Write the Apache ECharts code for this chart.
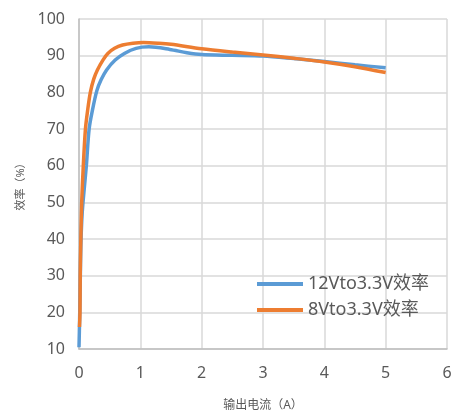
<!DOCTYPE html>
<html><head><meta charset="utf-8">
<script src="https://cdn.jsdelivr.net/npm/echarts@6/dist/echarts.min.js"></script>
<style>html,body{margin:0;padding:0;background:#fff}#c{width:452px;height:410px}</style>
</head><body><div id="c"></div>
<script>
const seriesNames = ['12Vto3.3V效率', '8Vto3.3V效率'];
const xTicks = [0, 1, 2, 3, 4, 5, 6];
const yTicks = [10, 20, 30, 40, 50, 60, 70, 80, 90, 100];
const current12V = [0, 0.01, 0.02, 0.03, 0.045, 0.065, 0.12, 0.165, 0.22, 0.29, 0.36, 0.45, 0.59, 0.74, 0.93, 1.14, 1.48, 1.76, 2, 2.5, 3, 3.5, 4, 4.5, 5];
const eff12V =     [10.5, 18, 28, 38, 45, 50, 60, 70, 75.2, 80.4, 83.4, 86.1, 88.8, 90.6, 92.0, 92.4, 91.7, 90.8, 90.3, 90.1, 89.9, 89.2, 88.4, 87.5, 86.7];
const current8V = [0.008, 0.016, 0.02, 0.03, 0.044, 0.07, 0.105, 0.14, 0.185, 0.24, 0.30, 0.39, 0.47, 0.58, 0.71, 0.88, 1.05, 1.3, 1.5, 2, 2.5, 3, 3.5, 4, 4.5, 5];
const eff8V =     [16, 20, 30, 40, 50, 60, 70, 75, 80, 83.6, 86.1, 88.8, 90.6, 92.0, 92.9, 93.4, 93.6, 93.4, 93.1, 91.9, 91.0, 90.2, 89.3, 88.3, 87.0, 85.4];

const font = '"Noto Sans", "Noto Sans CJK SC", sans-serif';
const chart = echarts.init(document.getElementById('c'), null, {renderer: 'canvas'});
chart.setOption({
  animation: false,
  backgroundColor: '#fff',
  grid: {left: 79, right: 5, top: 19, bottom: 61, containLabel: false, outerBoundsMode: 'none'},
  xAxis: {
    type: 'value', min: xTicks[0], max: xTicks[xTicks.length - 1], interval: 1,
    name: '输出电流（A）', nameLocation: 'middle', nameGap: 51,
    nameTextStyle: {color: '#595959', fontSize: 12, fontFamily: font},
    axisLine: {show: true, lineStyle: {color: '#bfbfbf', width: 1.5}},
    axisTick: {show: false},
    axisLabel: {color: '#595959', fontSize: 16, fontFamily: font, margin: 16},
    splitLine: {show: true, lineStyle: {color: '#d9d9d9', width: 1.5}}
  },
  yAxis: {
    type: 'value', min: yTicks[0], max: yTicks[yTicks.length - 1], interval: 10,
    name: '效率（%）', nameLocation: 'middle', nameGap: 53, nameRotate: 90,
    nameTextStyle: {color: '#595959', fontSize: 11, fontFamily: font},
    axisLine: {show: true, lineStyle: {color: '#bfbfbf', width: 1.5}},
    axisTick: {show: false},
    axisLabel: {color: '#595959', fontSize: 16, fontFamily: font, margin: 14},
    splitLine: {show: true, lineStyle: {color: '#d9d9d9', width: 1.5}}
  },
  legend: {
    orient: 'vertical', left: 252, top: 270, itemWidth: 46, itemHeight: 4, itemGap: 8,
    icon: 'rect',
    textStyle: {color: '#595959', fontSize: 18, fontFamily: font},
    data: seriesNames
  },
  series: [
    {name: seriesNames[0], type: 'line', showSymbol: false, smooth: 0.3,
     lineStyle: {color: '#5B9BD5', width: 3.5}, itemStyle: {color: '#5B9BD5'},
     data: current12V.map((x, i) => [x, eff12V[i]])},
    {name: seriesNames[1], type: 'line', showSymbol: false, smooth: 0.3,
     lineStyle: {color: '#ED7D31', width: 3.5}, itemStyle: {color: '#ED7D31'},
     data: current8V.map((x, i) => [x, eff8V[i]])}
  ]
});
</script></body></html>
